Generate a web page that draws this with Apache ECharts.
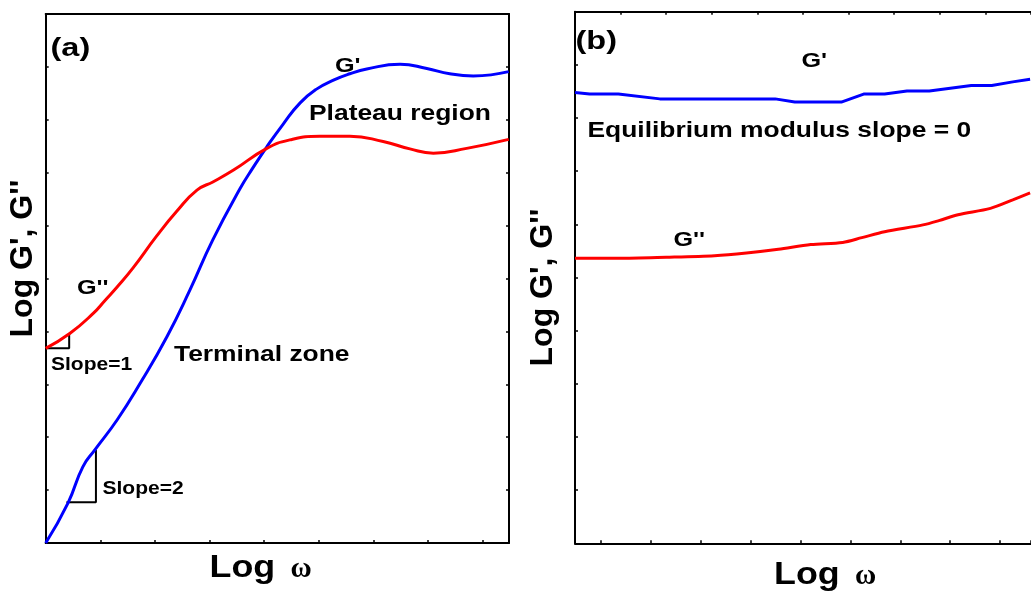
<!DOCTYPE html>
<html>
<head>
<meta charset="utf-8">
<script src="https://cdn.jsdelivr.net/npm/echarts@6/dist/echarts.min.js"></script>
<style>
html,body{margin:0;padding:0;background:#fff;}
#chart{width:1031px;height:593px;}
</style>
</head>
<body>
<div id="chart"></div>
<script>
// Panel (a): log omega (arbitrary units) vs log G', G''
const aGpX  = [0, 0.41, 0.68, 0.90, 1.31, 1.73, 2.22, 2.64, 3.06, 3.56, 3.80, 4.05, 4.35, 4.66, 4.96, 5.27, 5.57, 5.88, 6.49, 6.98, 7.40, 7.83, 8.48];
const aGpY  = [0, 0.76, 1.44, 1.76, 2.33, 3.02, 3.90, 4.78, 5.73, 6.70, 7.10, 7.49, 7.92, 8.32, 8.58, 8.75, 8.87, 8.96, 9.05, 8.97, 8.87, 8.83, 8.91];
const aGppX = [0, 0.44, 0.87, 1.09, 1.30, 1.60, 2.03, 2.40, 2.77, 3.07, 3.44, 4.05, 4.47, 5.02, 5.57, 6.18, 6.67, 7.10, 7.71, 8.48];
const aGppY = [3.68, 3.96, 4.34, 4.59, 4.83, 5.20, 5.80, 6.27, 6.67, 6.83, 7.05, 7.46, 7.62, 7.69, 7.69, 7.59, 7.45, 7.37, 7.46, 7.63];
const slope1X = [0, 0.43, 0.43];
const slope1Y = [3.68, 3.68, 3.96];
const slope2X = [0.38, 0.92, 0.92];
const slope2Y = [0.77, 0.77, 1.76];

// Panel (b)
const bGpX  = [0, 0.32, 0.95, 1.86, 4.39, 4.82, 5.84, 6.33, 6.79, 7.28, 7.77, 8.69, 9.14, 9.60, 9.98];
const bGpY  = [8.48, 8.45, 8.45, 8.36, 8.36, 8.30, 8.30, 8.45, 8.45, 8.51, 8.51, 8.61, 8.61, 8.68, 8.73];
const bGppX = [0, 0.95, 2.00, 3.06, 3.76, 4.46, 5.17, 5.87, 6.29, 6.79, 7.63, 7.98, 8.40, 9.11, 9.60, 9.98];
const bGppY = [5.36, 5.36, 5.38, 5.41, 5.46, 5.53, 5.62, 5.66, 5.75, 5.86, 5.99, 6.07, 6.18, 6.30, 6.46, 6.59];

const zip = (xs, ys) => xs.map((x, i) => [x, ys[i]]);

const SANS = '"Liberation Sans", Arial, sans-serif';
const SERIF = '"Liberation Serif", "Times New Roman", serif';
const BLACK = '#000';

function axisLineStyle(){ return {show:true, onZero:false, lineStyle:{color:BLACK, width:2}}; }
function ticks(show){ return {show:show, inside:true, length:3, lineStyle:{color:BLACK, width:1.5}}; }

const chart = echarts.init(document.getElementById('chart'), null, {renderer:'canvas'});

function txt(text, x, y, size, opts){
  opts = opts || {};
  return {
    type:'text', x:x, y:y, scaleX: opts.scaleX == null ? 1.2 : opts.scaleX, rotation: opts.rotation || 0,
    z: 100,
    style:{text:text, fill:BLACK, fontSize:size, fontWeight:'bold', fontFamily: opts.family || SANS,
      align: opts.align || 'left', verticalAlign:'middle'}
  };
}

const option = {
  animation:false,
  backgroundColor:'#fff',
  grid:[
    {left:45.7, top:14, width:463.3, height:529},
    {left:575, top:11.7, width:474, height:531.6}
  ],
  xAxis:[
    {gridIndex:0, type:'value', position:'bottom', min:0, max:8.485, interval:1,
     axisLine:axisLineStyle(), axisTick:ticks(true), axisLabel:{show:false}, splitLine:{show:false}},
    {gridIndex:0, type:'value', position:'top', min:0, max:8.485, interval:1,
     axisLine:axisLineStyle(), axisTick:ticks(false), axisLabel:{show:false}, splitLine:{show:false}},
    {gridIndex:1, type:'value', position:'top', min:0, max:10, interval:1,
     axisLine:axisLineStyle(), axisTick:ticks(true), axisLabel:{show:false}, splitLine:{show:false}},
    {gridIndex:1, type:'value', position:'bottom', min:-0.514, max:8.618, minInterval:1, maxInterval:1, splitNumber:9,
     axisLine:axisLineStyle(), axisTick:ticks(true), axisLabel:{show:false}, splitLine:{show:false}}
  ],
  yAxis:[
    {gridIndex:0, type:'value', position:'left', min:0, max:10, interval:1,
     axisLine:axisLineStyle(), axisTick:ticks(true), axisLabel:{show:false}, splitLine:{show:false}},
    {gridIndex:0, type:'value', position:'right', min:0, max:10, interval:1,
     axisLine:axisLineStyle(), axisTick:ticks(true), axisLabel:{show:false}, splitLine:{show:false}},
    {gridIndex:1, type:'value', position:'left', min:0, max:10, interval:1,
     axisLine:axisLineStyle(), axisTick:ticks(true), axisLabel:{show:false}, splitLine:{show:false}}
  ],
  series:[
    {type:'line', xAxisIndex:0, yAxisIndex:0, data:zip(slope1X, slope1Y), symbol:'none',
     lineStyle:{color:BLACK, width:2}, z:2},
    {type:'line', xAxisIndex:0, yAxisIndex:0, data:zip(slope2X, slope2Y), symbol:'none',
     lineStyle:{color:BLACK, width:2}, z:2},
    {name:"G'", type:'line', xAxisIndex:0, yAxisIndex:0, data:zip(aGpX, aGpY), smooth:0.5, symbol:'none',
     lineStyle:{color:'#0000ff', width:3}, z:3},
    {name:"G''", type:'line', xAxisIndex:0, yAxisIndex:0, data:zip(aGppX, aGppY), smooth:0.5, symbol:'none',
     lineStyle:{color:'#ff0000', width:3}, z:3},
    {name:"G'", type:'line', xAxisIndex:2, yAxisIndex:2, data:zip(bGpX, bGpY), smooth:false, symbol:'none',
     lineStyle:{color:'#0000ff', width:3}, z:3},
    {name:"G''", type:'line', xAxisIndex:2, yAxisIndex:2, data:zip(bGppX, bGppY), smooth:0.3, symbol:'none',
     lineStyle:{color:'#ff0000', width:3}, z:3}
  ],
  graphic:[
    txt('(a)', 50.5, 49, 26, {scaleX:1.25}),
    txt("G'", 335, 66, 21),
    txt('Plateau region', 309, 114.3, 22),
    txt("G''", 77, 288.7, 21),
    txt('Slope=1', 51, 365.5, 17.5),
    txt('Terminal zone', 174, 354.7, 22),
    txt('Slope=2', 102.5, 489, 17.5),
    txt('Log', 209.5, 568.3, 32, {scaleX:1.12}),
    txt('\u03c9', 301, 570, 29, {scaleX:1, align:'center', family:SERIF}),
    txt("Log G', G''", 23.5, 258.5, 32, {scaleX:1, rotation:Math.PI/2, align:'center'}),

    txt('(b)', 575.5, 41.5, 26, {scaleX:1.25}),
    txt("G'", 801.5, 61.5, 21),
    txt('Equilibrium modulus slope = 0', 587.5, 130.5, 22),
    txt("G''", 673.5, 240, 21),
    txt('Log', 774, 575, 32, {scaleX:1.12}),
    txt('\u03c9', 865.5, 577, 29, {scaleX:1, align:'center', family:SERIF}),
    txt("Log G', G''", 543, 287.5, 32, {scaleX:1, rotation:Math.PI/2, align:'center'})
  ]
};
chart.setOption(option);
</script>
</body>
</html>
